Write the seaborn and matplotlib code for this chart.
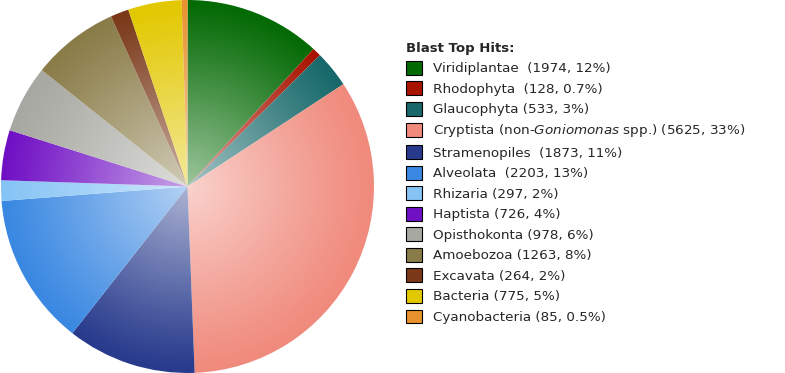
import numpy as np
import matplotlib
matplotlib.use("Agg")
import matplotlib.pyplot as plt
import seaborn as sns
from matplotlib.patches import Circle, Patch

sns.set_theme(style="white")
plt.rcParams['font.family'] = ['DejaVu Sans']
plt.rcParams['mathtext.fontset'] = 'dejavusans'

# data
groups = ["Viridiplantae", "Rhodophyta", "Glaucophyta", "Cryptista", "Stramenopiles",
          "Alveolata", "Rhizaria", "Haptista", "Opisthokonta", "Amoebozoa",
          "Excavata", "Bacteria", "Cyanobacteria"]
hits = [1974, 128, 533, 5625, 1873, 2203, 297, 726, 978, 1263, 264, 775, 85]
labels = ["Viridiplantae  (1974, 12%)",
          "Rhodophyta  (128, 0.7%)",
          "Glaucophyta (533, 3%)",
          r"Cryptista (non-$\it{Goniomonas}$ spp.) (5625, 33%)",
          "Stramenopiles  (1873, 11%)",
          "Alveolata  (2203, 13%)",
          "Rhizaria (297, 2%)",
          "Haptista (726, 4%)",
          "Opisthokonta (978, 6%)",
          "Amoebozoa (1263, 8%)",
          "Excavata (264, 2%)",
          "Bacteria (775, 5%)",
          "Cyanobacteria (85, 0.5%)"]
colors = ["#046a04", "#a81200", "#16686a", "#f08a7c", "#273a8c", "#3a88e2",
          "#86c4f6", "#7010c4", "#a8a8a2", "#8a7c48", "#7a3818", "#e2c800", "#e8922e"]

fig = plt.figure(figsize=(7.85, 3.73), dpi=100)
ax = fig.add_axes([0, 0, 375 / 785, 1])
wedges, _ = ax.pie(hits, colors=colors, startangle=90, counterclock=False,
                   radius=1.0, wedgeprops=dict(linewidth=0))
ax.set_xlim(-1.0, 1.0)
ax.set_ylim(-1.0, 1.0)
ax.set_aspect('equal')
ax.axis('off')

# radial white sheen, lighter in the middle
n = 400
xx, yy = np.meshgrid(np.linspace(-1, 1, n), np.linspace(-1, 1, n))
rr = np.sqrt(xx ** 2 + yy ** 2)
alpha = np.clip(0.62 * (1 - rr) ** 1.1, 0, 1)
sheen = np.ones((n, n, 4))
sheen[..., 3] = alpha
im = ax.imshow(sheen, extent=(-1, 1, -1, 1), origin='lower', zorder=3, interpolation='bilinear')
im.set_clip_path(Circle((0, 0), 1.0, transform=ax.transData))

handles = [Patch(facecolor=c, edgecolor='black', linewidth=0.8) for c in colors]
leg = fig.legend(handles, labels, loc='upper left', bbox_to_anchor=(399 / 785, 1 - 35 / 373),
                 frameon=False, fontsize=9.7, title="Blast Top Hits:",
                 title_fontproperties={'weight': 'bold', 'size': 9.5},
                 handlelength=1.2, handleheight=1.2, handletextpad=0.85,
                 labelspacing=0.45, borderpad=0, alignment='left')

fig.savefig("out.png", dpi=100)
